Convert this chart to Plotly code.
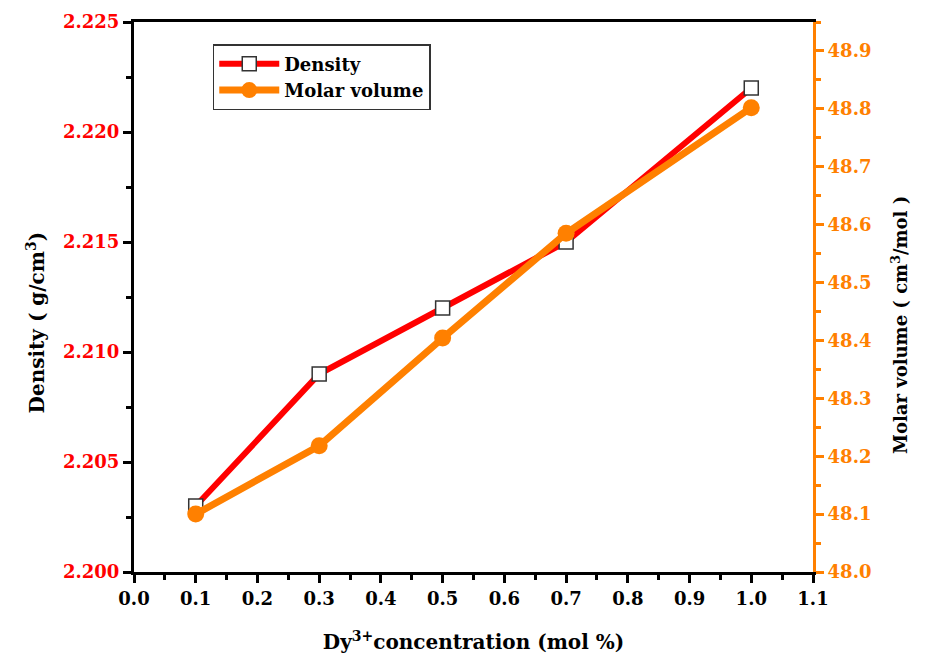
import plotly.graph_objects as go

conc = [0.1, 0.3, 0.5, 0.7, 1.0]
density = [2.203, 2.209, 2.212, 2.215, 2.222]
molar_volume = [48.10, 48.218, 48.404, 48.585, 48.802]

FONT = "DejaVu Serif"
RED = "#ff0000"
ORANGE = "#ff8000"

fig = go.Figure()
fig.add_trace(go.Scatter(
    x=conc, y=density, name="<b>Density</b>", mode="lines+markers",
    line=dict(color=RED, width=6),
    marker=dict(symbol="square", size=14, color="white",
                line=dict(color="#333333", width=1.5)),
    yaxis="y"))
fig.add_trace(go.Scatter(
    x=conc, y=molar_volume, name="<b>Molar volume</b>", mode="lines+markers",
    line=dict(color=ORANGE, width=7),
    marker=dict(symbol="circle", size=17, color=ORANGE),
    yaxis="y2"))

fig.update_layout(
    width=927, height=657,
    margin=dict(l=134, r=114, t=22, b=85, autoexpand=False),
    plot_bgcolor="white", paper_bgcolor="white",
    font=dict(family=FONT, color="black"),
    showlegend=True,
    legend=dict(x=0.116, y=0.96, xanchor="left", yanchor="top",
                bordercolor="#333333", borderwidth=1.5, bgcolor="white",
                font=dict(family=FONT, size=18, color="black"),
                itemwidth=60, tracegroupgap=0),
    xaxis=dict(
        range=[0, 1.1], dtick=0.1, tick0=0, tickformat=".1f", automargin=False,
        showline=True, linecolor="black", linewidth=3, mirror=True,
        ticks="outside", ticklen=8, tickwidth=3, tickcolor="black",
        minor=dict(dtick=0.05, ticks="outside", ticklen=5, tickwidth=3, tickcolor="black"),
        showgrid=False, zeroline=False,
        tickfont=dict(family=FONT, size=18, color="black", weight="bold"),
        title=dict(text="<b>Dy<sup>3+</sup>concentration (mol %)</b>",
                   font=dict(family=FONT, size=20, color="black"), standoff=28),
    ),
    yaxis=dict(
        range=[2.200, 2.225], dtick=0.005, tick0=2.2, tickformat=".3f", automargin=False,
        showline=True, linecolor="black", linewidth=3, mirror=False,
        ticks="outside", ticklen=8, tickwidth=3, tickcolor="black",
        minor=dict(dtick=0.0025, ticks="outside", ticklen=5, tickwidth=3, tickcolor="black"),
        showgrid=False, zeroline=False,
        tickfont=dict(family=FONT, size=18, color=RED, weight="bold"),
    ),
    yaxis2=dict(
        range=[48.0, 48.95], dtick=0.1, tick0=48.0, tickformat=".1f", automargin=False,
        overlaying="y", side="right", anchor="x",
        showline=True, linecolor=ORANGE, linewidth=3,
        ticks="outside", ticklen=8, tickwidth=3, tickcolor=ORANGE,
        minor=dict(dtick=0.05, ticks="outside", ticklen=5, tickwidth=3, tickcolor=ORANGE),
        showgrid=False, zeroline=False,
        tickfont=dict(family=FONT, size=18, color=ORANGE, weight="bold"),
    ),
    annotations=[
        dict(text="<b>Density ( g/cm<sup>3</sup>)</b>", textangle=-90,
             xref="paper", yref="paper", x=-0.145, y=0.453,
             xanchor="center", yanchor="middle", showarrow=False,
             font=dict(family=FONT, size=20, color="black")),
        dict(text="<b>Molar volume ( cm<sup>3</sup>/mol )</b>", textangle=-90,
             xref="paper", yref="paper", x=1.128, y=0.449,
             xanchor="center", yanchor="middle", showarrow=False,
             font=dict(family=FONT, size=18, color="black")),
    ],
)

fig.write_html("out.html")
